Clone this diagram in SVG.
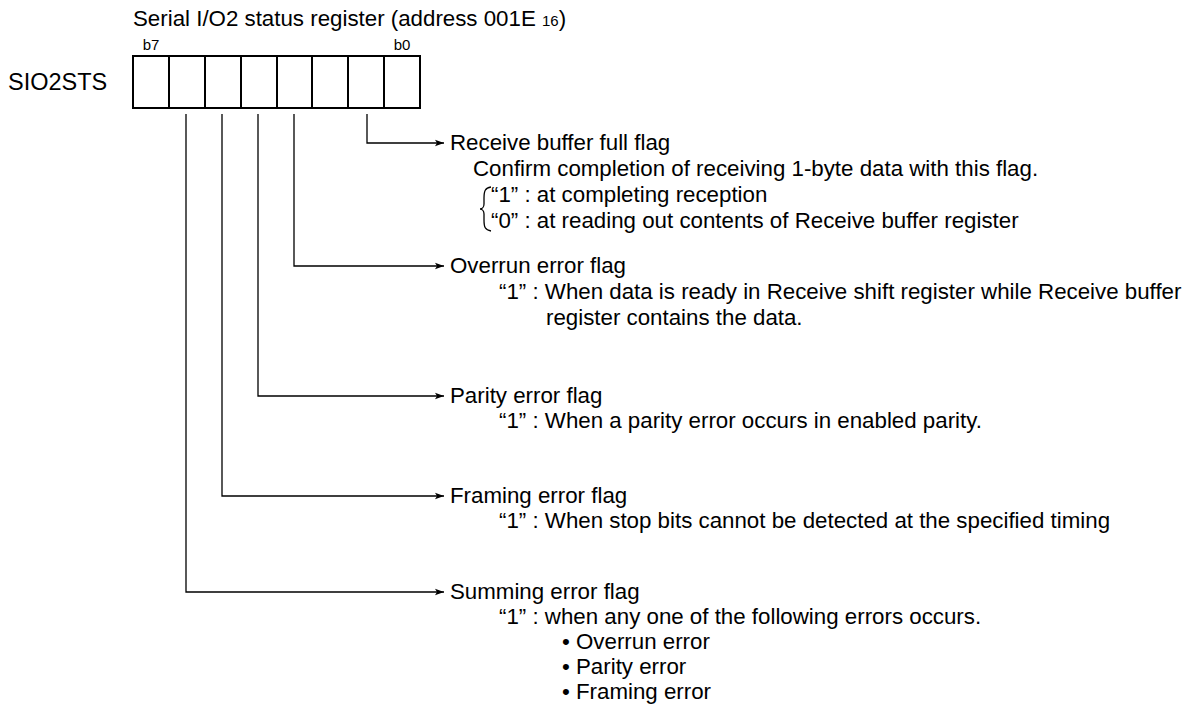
<svg xmlns="http://www.w3.org/2000/svg" width="1192" height="708" viewBox="0 0 1192 708">
<defs>
<marker id="ah" markerWidth="10" markerHeight="8" refX="9" refY="4" orient="auto" markerUnits="userSpaceOnUse">
<path d="M0,0.8 L9,4 L0,7.2 L2,4 Z" fill="#000"/>
</marker>
</defs>
<style>
text{font-family:"Liberation Sans",Arial,sans-serif;font-size:22.3px;fill:#000}
.sm{font-size:15px}
.cell{fill:#fff;stroke:#000;stroke-width:2}
.conn{fill:none;stroke:#000;stroke-width:1.3}
</style>
<rect width="1192" height="708" fill="#fff"/>
<g id="title">
<text x="133" y="26">Serial I/O2 status register (address 001E <tspan class="sm">16</tspan>)</text>
</g>
<g id="register">
<text x="8" y="90" style="font-size:23.5px">SIO2STS</text>
<text class="sm" x="151" y="50" text-anchor="middle">b7</text>
<text class="sm" x="402" y="50" text-anchor="middle">b0</text>
<rect class="cell" x="133" y="56" width="287" height="52"/>
<path class="cell" d="M169,56V108M205,56V108M241,56V108M277,56V108M312,56V108M348,56V108M384,56V108"/>
</g>
<g id="connectors">
<path class="conn" d="M367,114V143H444" marker-end="url(#ah)"/>
<path class="conn" d="M294,114V266H444" marker-end="url(#ah)"/>
<path class="conn" d="M258,114V396H444" marker-end="url(#ah)"/>
<path class="conn" d="M222,114V496H444" marker-end="url(#ah)"/>
<path class="conn" d="M186,114V592H444" marker-end="url(#ah)"/>
</g>
<g id="rbf">
<text x="450" y="150">Receive buffer full flag</text>
<text x="473" y="176">Confirm completion of receiving 1-byte data with this flag.</text>
<path class="conn" d="M491,187C485,188 484,191 484,198V204C484,207 482,209 480,209C482,209 484,211 484,214V220C484,227 485,230 491,231" stroke-width="1"/>
<text x="491" y="202">“1” : at completing reception</text>
<text x="491" y="228">“0” : at reading out contents of Receive buffer register</text>
</g>
<g id="ovr">
<text x="450" y="273">Overrun error flag</text>
<text x="499" y="299">“1” : When data is ready in Receive shift register while Receive buffer</text>
<text x="546" y="325">register contains the data.</text>
</g>
<g id="par">
<text x="450" y="403">Parity error flag</text>
<text x="499" y="428">“1” : When a parity error occurs in enabled parity.</text>
</g>
<g id="frm">
<text x="450" y="503">Framing error flag</text>
<text x="499" y="528">“1” : When stop bits cannot be detected at the specified timing</text>
</g>
<g id="sum">
<text x="450" y="599">Summing error flag</text>
<text x="499" y="624">“1” : when any one of the following errors occurs.</text>
<text x="562" y="649">• Overrun error</text>
<text x="562" y="674">• Parity error</text>
<text x="562" y="699">• Framing error</text>
</g>
</svg>
